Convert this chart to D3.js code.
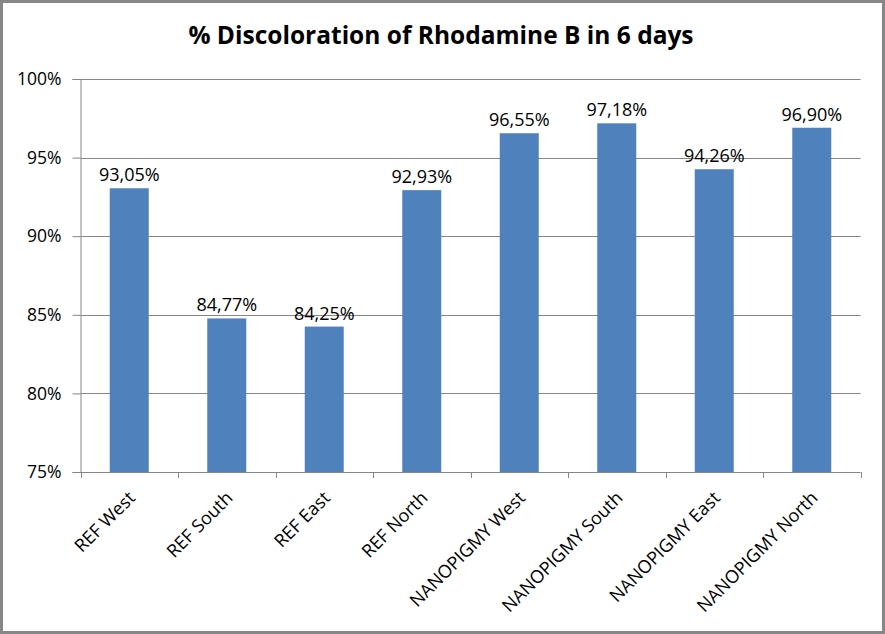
<!DOCTYPE html>
<html><head><meta charset="utf-8">
<script src="https://cdn.jsdelivr.net/npm/d3@7"></script>
<style>body{margin:0;background:#fff}svg{display:block}text{font-family:"Open Sans",Lato,sans-serif}</style>
</head><body><svg id="c" width="885" height="634"></svg>
<script>
const categories = ["REF West","REF South","REF East","REF North","NANOPIGMY West","NANOPIGMY South","NANOPIGMY East","NANOPIGMY North"];
const values = [93.05, 84.77, 84.25, 92.93, 96.55, 97.18, 94.26, 96.90];
const yTicks = [75, 80, 85, 90, 95, 100];
const title = "% Discoloration of Rhodamine B in 6 days";

const svg = d3.select("#c");
const W = 885, H = 634;
svg.append("rect").attr("x",1.5).attr("y",1.5).attr("width",W-3).attr("height",H-3)
  .attr("fill","#fff").attr("stroke","#878787").attr("stroke-width",3);

const m = {l:80.5, r:860.5, t:79, b:472};
const x = d3.scaleBand().domain(categories).range([m.l, m.r]).paddingInner(0.6).paddingOuter(0.3);
const y = d3.scaleLinear().domain([75,100]).range([m.b, m.t]);
const grey = "#868686";
const fs = 17.5;

// gridlines
svg.append("g").selectAll("line").data(yTicks.filter(d=>d>75)).join("line")
  .attr("x1",m.l).attr("x2",m.r).attr("y1",d=>Math.round(y(d))+0.5).attr("y2",d=>Math.round(y(d))+0.5)
  .attr("stroke",grey).attr("stroke-width",1);

// y axis
const ya = svg.append("g").attr("transform",`translate(${m.l},0)`)
  .call(d3.axisLeft(y).tickValues(yTicks).tickFormat(d=>d+"%").tickSize(8).tickPadding(11));
ya.select(".domain").attr("stroke",grey);
ya.selectAll(".tick line").attr("stroke",grey);
ya.selectAll(".tick text").attr("font-size",fs).attr("fill","#000").attr("font-family","'Open Sans',sans-serif");

// bars
svg.append("g").selectAll("rect").data(values).join("rect")
  .attr("x",(d,i)=>x(categories[i])).attr("width",x.bandwidth())
  .attr("y",d=>y(d)).attr("height",d=>y(75)-y(d)).attr("fill","#4F81BD");

// data labels
svg.append("g").selectAll("text").data(values).join("text")
  .attr("x",(d,i)=>x(categories[i])+x.bandwidth()/2).attr("y",d=>y(d)-7)
  .attr("text-anchor","middle").attr("font-size",18).attr("fill","#000")
  .text(d=>d.toFixed(2).replace(".",",")+"%");

// x axis
const step = (m.r-m.l)/categories.length;
const xa = svg.append("g").attr("transform",`translate(0,${m.b})`);
xa.append("line").attr("x1",m.l).attr("x2",m.r).attr("y1",0.5).attr("y2",0.5).attr("stroke",grey);
xa.selectAll("line.tk").data(d3.range(categories.length+1)).join("line").attr("class","tk")
  .attr("x1",i=>Math.round(m.l+i*step)+0.5).attr("x2",i=>Math.round(m.l+i*step)+0.5)
  .attr("y1",0).attr("y2",6).attr("stroke",grey);
xa.selectAll("text").data(categories).join("text")
  .attr("transform",d=>`translate(${x(d)+x.bandwidth()/2-2},${18}) rotate(-45)`)
  .attr("text-anchor","end").attr("dy","0.71em").attr("font-size",18).attr("fill","#000")
  .text(d=>d);

svg.append("text").attr("x",441).attr("y",44).attr("text-anchor","middle")
  .attr("font-size",24.5).attr("font-weight","bold").attr("fill","#000").text(title);
</script></body></html>
